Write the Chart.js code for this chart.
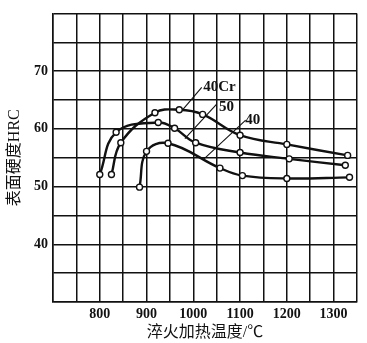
<!DOCTYPE html>
<html>
<head>
<meta charset="utf-8">
<script src="https://cdn.jsdelivr.net/npm/chart.js@4"></script>
<style>
  html, body { margin: 0; padding: 0; background: #fff; }
  #wrap { width: 367px; height: 343px; }
</style>
</head>
<body>
<div id="wrap"><canvas id="hrc"></canvas></div>
<script>
// quench temperature (deg C) / surface hardness (HRC)
const temp40Cr = [825, 845, 918, 970, 1020, 1100, 1200, 1330];
const hrc40Cr  = [52.1, 57.6, 62.8, 63.3, 62.5, 58.9, 57.3, 55.4];
const temp50   = [800, 835, 925, 960, 1005, 1100, 1205, 1325];
const hrc50    = [52.1, 59.4, 61.1, 60.1, 57.6, 55.9, 54.8, 53.7];
const temp40   = [885, 900, 946, 1057, 1105, 1200, 1334];
const hrc40    = [49.9, 56.1, 57.5, 53.2, 51.9, 51.4, 51.6];

// curve labels and their leader lines
const labelNames  = ['40Cr', '50', '40'];
const labelTemp   = [1021, 1055, 1111];
const labelHrc    = [67.3, 63.7, 61.5];
const leaderTemp  = [[977, 1018], [982, 1050], [1023, 1112]];
const leaderHrc   = [[63.3, 67.2], [58.3, 64.3], [54.8, 61.5]];

const xTicks = [800, 900, 1000, 1100, 1200, 1300];
const yTicks = [40, 50, 60, 70];

const serif = '"Liberation Serif", "Noto Sans CJK SC", serif';

function toPoints(xs, ys) {
    return xs.map((x, i) => ({ x: x, y: ys[i] }));
}

function curve(xs, ys) {
    return {
        data: toPoints(xs, ys),
        borderColor: '#111',
        borderWidth: 2.4,
        tension: 0.4,
        pointRadius: 3,
        pointBorderWidth: 1.4,
        pointBackgroundColor: '#fff',
        pointBorderColor: '#111',
        fill: false
    };
}

const datasets = [];
// leader lines first so the curves sit on top
leaderTemp.forEach((xs, i) => {
    datasets.push({
        data: toPoints(xs, leaderHrc[i]),
        borderColor: '#111',
        borderWidth: 1.1,
        pointRadius: 0,
        tension: 0
    });
});
datasets.push(curve(temp40Cr, hrc40Cr));
datasets.push(curve(temp50, hrc50));
datasets.push(curve(temp40, hrc40));

// draws the curve names next to the leader lines
const curveLabels = {
    id: 'curveLabels',
    afterDatasetsDraw(chart) {
        const ctx = chart.ctx;
        const xs = chart.scales.x, ys = chart.scales.y;
        ctx.save();
        ctx.fillStyle = '#111';
        ctx.font = 'bold 15px ' + serif;
        ctx.textAlign = 'left';
        ctx.textBaseline = 'middle';
        labelNames.forEach((name, i) => {
            ctx.fillText(name, xs.getPixelForValue(labelTemp[i]), ys.getPixelForValue(labelHrc[i]));
        });
        ctx.restore();
    }
};

new Chart(document.getElementById('hrc'), {
    type: 'line',
    data: { datasets: datasets },
    plugins: [curveLabels],
    options: {
        responsive: true,
        maintainAspectRatio: false,
        animation: false,
        layout: { padding: { top: 10, right: 10, left: 0, bottom: 0 } },
        plugins: { legend: { display: false }, tooltip: { enabled: false } },
        scales: {
            x: {
                type: 'linear',
                min: 700,
                max: 1350,
                afterFit: s => { s.height = 41; },
                afterBuildTicks: s => {
                    s.ticks = [];
                    for (let v = 700; v <= 1350; v += 50) s.ticks.push({ value: v });
                },
                grid: { color: '#111', lineWidth: 1.5, drawTicks: false },
                border: { color: '#111', width: 1.5 },
                ticks: {
                    autoSkip: false,
                    maxRotation: 0,
                    padding: 4,
                    color: '#111',
                    font: { family: serif, size: 14, weight: 'bold' },
                    callback: v => xTicks.includes(v) ? String(v) : ''
                },
                title: {
                    display: true,
                    text: '淬火加热温度/℃',
                    color: '#111',
                    font: { family: serif, size: 16 },
                    padding: { top: 0, bottom: 1 }
                }
            },
            y: {
                min: 30,
                max: 80,
                afterFit: s => { s.width = 53; },
                afterBuildTicks: s => {
                    s.ticks = [];
                    for (let v = 30; v <= 80; v += 5) s.ticks.push({ value: v });
                },
                grid: { color: '#111', lineWidth: 1.5, drawTicks: false },
                border: { color: '#111', width: 1.5 },
                ticks: {
                    autoSkip: false,
                    padding: 5,
                    color: '#111',
                    font: { family: serif, size: 14, weight: 'bold' },
                    callback: v => yTicks.includes(v) ? String(v) : ''
                },
                title: {
                    display: true,
                    text: '表面硬度HRC',
                    color: '#111',
                    font: { family: serif, size: 16 },
                    padding: { top: 5, bottom: 0 }
                }
            }
        }
    }
});
</script>
</body>
</html>
